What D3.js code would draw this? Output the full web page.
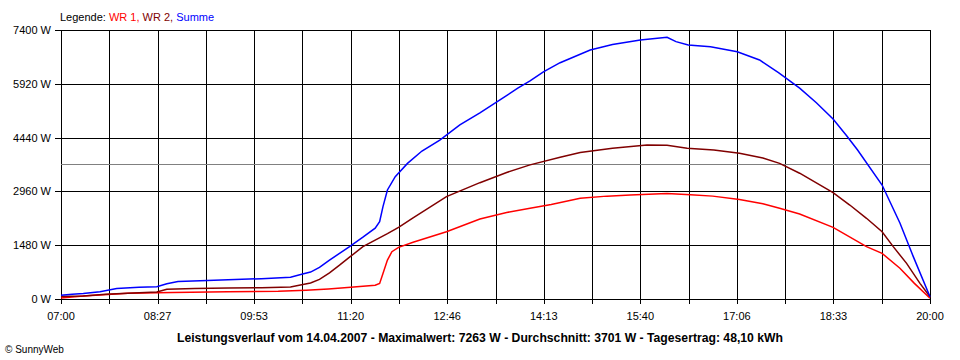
<!DOCTYPE html>
<html>
<head>
<meta charset="utf-8">
<script src="https://cdn.jsdelivr.net/npm/d3@7"></script>
<style>
  body { margin: 0; background: #fff; }
  svg { display: block; font-family: "Liberation Sans", Arial, sans-serif; }
</style>
</head>
<body>
<svg id="chart" width="960" height="360"></svg>
<script>
// tick labels
let xLabels = ['07:00', '08:27', '09:53', '11:20', '12:46', '14:13', '15:40', '17:06', '18:33', '20:00'];
let yTicks = [0, 1480, 2960, 4440, 5920, 7400];
let average = 3701;

// series (time, watt)
let wr1 = [
  ['07:00', 30], ['07:20', 80], ['07:35', 110], ['08:00', 160], ['08:40', 180],
  ['09:30', 200], ['10:15', 210], ['10:40', 240], ['11:00', 275], ['11:20', 320],
  ['11:42', 380], ['11:46', 430], ['11:49', 700], ['11:53', 1070], ['11:57', 1300],
  ['12:03', 1420], ['12:16', 1560], ['12:46', 1850], ['13:16', 2200], ['13:40', 2380],
  ['14:01', 2495], ['14:20', 2600], ['14:46', 2770], ['15:10', 2830], ['15:31', 2860],
  ['16:04', 2905], ['16:25', 2870], ['16:45', 2830], ['17:09', 2740], ['17:30', 2620],
  ['17:45', 2495], ['18:03', 2340], ['18:33', 1970], ['19:03', 1440], ['19:17', 1255],
  ['19:33', 845], ['19:46', 430], ['20:00', 20]
];

let wr2 = [
  ['07:00', 70], ['07:20', 80], ['07:40', 130], ['08:00', 160], ['08:26', 190],
  ['08:35', 270], ['09:00', 290], ['09:30', 300], ['10:00', 310], ['10:26', 330],
  ['10:36', 390], ['10:44', 440], ['10:52', 540], ['11:01', 720], ['11:10', 930],
  ['11:19', 1150], ['11:31', 1440], ['11:53', 1800], ['12:03', 1973], ['12:16', 2230],
  ['12:46', 2815], ['13:16', 3200], ['13:40', 3480], ['14:01', 3690], ['14:28', 3900],
  ['14:46', 4030], ['15:15', 4145], ['15:46', 4235], ['16:04', 4230], ['16:22', 4150],
  ['16:46', 4100], ['17:09', 4010], ['17:30', 3880], ['17:45', 3730], ['18:03', 3460],
  ['18:33', 2925], ['18:48', 2585], ['19:03', 2220], ['19:17', 1850], ['19:27', 1440],
  ['19:39', 980], ['19:51', 430], ['20:00', 60]
];

let summe = [
  ['07:00', 100], ['07:10', 130], ['07:20', 150], ['07:35', 200], ['07:50', 290],
  ['08:10', 320], ['08:26', 340], ['08:35', 420], ['08:45', 480], ['09:05', 500],
  ['09:30', 530], ['10:00', 560], ['10:26', 600], ['10:36', 680], ['10:44', 740],
  ['10:52', 870], ['11:01', 1070], ['11:19', 1440], ['11:31', 1700], ['11:42', 1950],
  ['11:46', 2130], ['11:49', 2540], ['11:53', 3000], ['12:00', 3365], ['12:11', 3730],
  ['12:24', 4070], ['12:40', 4370], ['12:58', 4790], ['13:16', 5120], ['13:34', 5475],
  ['13:50', 5800], ['14:01', 6000], ['14:13', 6250], ['14:28', 6500], ['14:55', 6850],
  ['15:15', 7000], ['15:40', 7125], ['16:04', 7200], ['16:12', 7080], ['16:23', 6990],
  ['16:43', 6940], ['17:07', 6800], ['17:27', 6575], ['17:44', 6225], ['18:03', 5800],
  ['18:18', 5400], ['18:33', 4950], ['18:45', 4500], ['18:55', 4100], ['19:17', 3136],
  ['19:33', 2090], ['19:45', 1165], ['20:00', 60]
];

let series = [
  { name: 'WR 1', color: '#ff0000', values: wr1 },
  { name: 'WR 2', color: '#800000', values: wr2 },
  { name: 'Summe', color: '#0000ff', values: summe }
];

let caption = 'Leistungsverlauf vom 14.04.2007 - Maximalwert: 7263 W - Durchschnitt: 3701 W - Tagesertrag: 48,10 kWh';

function minutes(s) {
  let p = s.split(':');
  return (+p[0] - 7) * 60 + +p[1];
}

let svg = d3.select('#chart');
let m = { l: 61, r: 930, t: 30, b: 299 };

let x = d3.scaleLinear().domain([0, 780]).range([m.l, m.r]);
let y = d3.scaleLinear().domain([0, 7400]).range([m.b, m.t]);

// grid
let grid = svg.append('g').attr('shape-rendering', 'crispEdges');
let vGrid = d3.range(19).map(i => i * 780 / 18);

grid.selectAll('.vg')
  .data(vGrid)
  .enter()
  .append('line')
  .attr('x1', d => Math.round(x(d)) + 0.5)
  .attr('x2', d => Math.round(x(d)) + 0.5)
  .attr('y1', m.t)
  .attr('y2', m.b + 5)
  .attr('stroke', '#000');

grid.selectAll('.hg')
  .data(yTicks)
  .enter()
  .append('line')
  .attr('x1', m.l - 6)
  .attr('x2', m.r)
  .attr('y1', d => Math.round(y(d)) + 0.5)
  .attr('y2', d => Math.round(y(d)) + 0.5)
  .attr('stroke', '#000');

// average line
svg.append('line')
  .attr('x1', m.l)
  .attr('x2', m.r)
  .attr('y1', Math.round(y(average)) + 0.5)
  .attr('y2', Math.round(y(average)) + 0.5)
  .attr('stroke', '#808080')
  .attr('shape-rendering', 'crispEdges');

// y labels
svg.selectAll('.yl')
  .data(yTicks)
  .enter()
  .append('text')
  .attr('x', m.l - 10)
  .attr('y', d => y(d) + 4)
  .attr('text-anchor', 'end')
  .style('font-size', '11px')
  .text(d => d + ' W');

// x labels
svg.selectAll('.xl')
  .data(xLabels)
  .enter()
  .append('text')
  .attr('x', (d, i) => x(i * 780 / 9))
  .attr('y', 320)
  .attr('text-anchor', 'middle')
  .style('font-size', '11px')
  .text(d => d);

// lines
let line = d3.line()
  .x(d => x(minutes(d[0])))
  .y(d => y(d[1]));

svg.selectAll('.series')
  .data(series)
  .enter()
  .append('path')
  .attr('d', d => line(d.values))
  .attr('fill', 'none')
  .attr('stroke', d => d.color)
  .attr('stroke-width', 1.5);

// legend
let legend = svg.append('text')
  .attr('x', 60)
  .attr('y', 21)
  .style('font-size', '11px');

legend.append('tspan').attr('fill', '#000').text('Legende: ');
series.forEach((s, i) => {
  legend.append('tspan')
    .attr('fill', s.color)
    .text(s.name + (i < series.length - 1 ? ', ' : ''));
});

// caption
svg.append('text')
  .attr('x', 480)
  .attr('y', 342)
  .attr('text-anchor', 'middle')
  .style('font-size', '12.2px')
  .style('font-weight', 'bold')
  .text(caption);

svg.append('text')
  .attr('x', 5)
  .attr('y', 353)
  .style('font-size', '10px')
  .text('\u00a9 SunnyWeb');
</script>
</body>
</html>
